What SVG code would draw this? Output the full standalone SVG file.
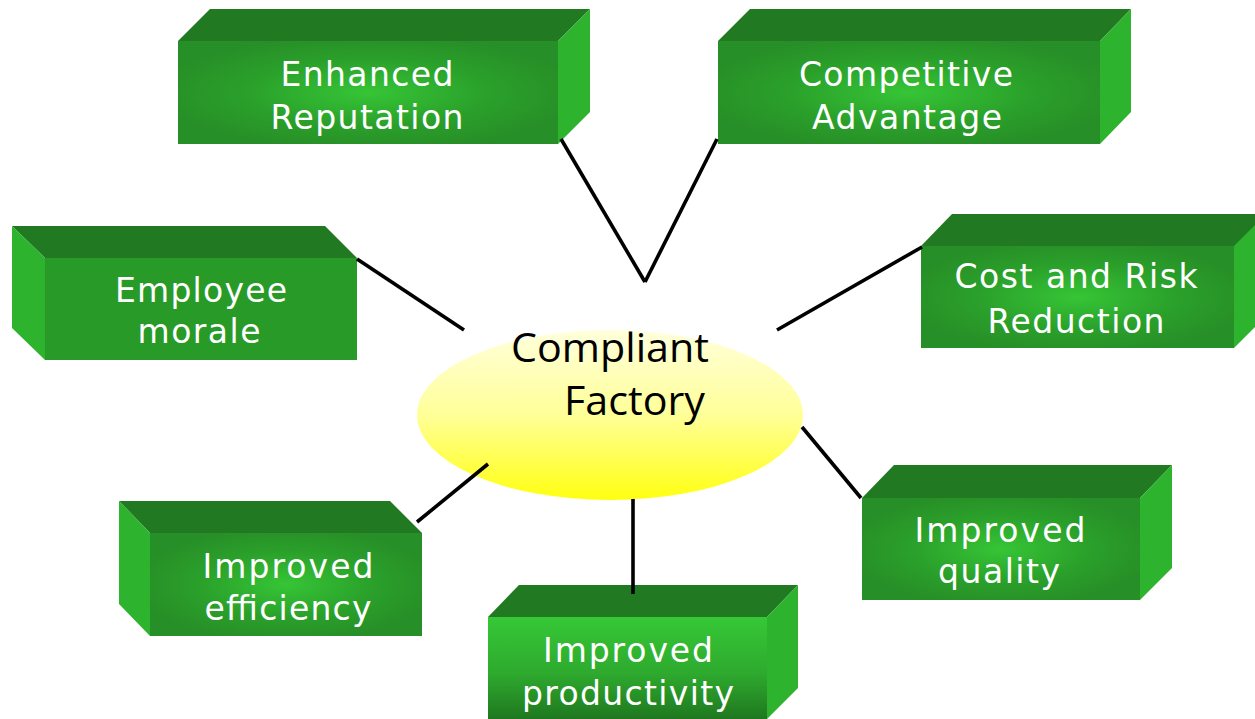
<svg xmlns="http://www.w3.org/2000/svg" width="1255" height="719" viewBox="0 0 1255 719">
<defs>
<radialGradient id="front" cx="0.5" cy="0.5" r="0.55">
<stop offset="0" stop-color="#36c536"/>
<stop offset="0.6" stop-color="#2a9f2a"/>
<stop offset="1" stop-color="#278f27"/>
</radialGradient>
<linearGradient id="frontV" x1="0" y1="0" x2="0" y2="1">
<stop offset="0" stop-color="#36c836"/>
<stop offset="0.55" stop-color="#2eaa2e"/>
<stop offset="1" stop-color="#1f781f"/>
</linearGradient>
<linearGradient id="ell" x1="0" y1="0" x2="0" y2="1">
<stop offset="0" stop-color="#ffffdc"/>
<stop offset="0.5" stop-color="#ffff98"/>
<stop offset="1" stop-color="#ffff10"/>
</linearGradient>
</defs>
<style>
.top{fill:#217a21}
.side{fill:#2db32d}
.fr{fill:url(#front)}
.frp{fill:#289a28}
.frv{fill:url(#frontV)}
.lbl{font-family:"DejaVu Sans",Verdana,sans-serif;font-size:33px;fill:#ffffff;text-anchor:middle}
.ctr{font-family:"Open Sans","Liberation Sans",sans-serif;font-size:41px;fill:#000000}
.conn line{stroke:#000;stroke-width:3.6;stroke-linecap:butt}
</style>
<g id="hub">
<ellipse cx="610" cy="415" rx="193" ry="85" fill="url(#ell)"/>
<text class="ctr" x="511" y="362" textLength="198" lengthAdjust="spacingAndGlyphs">Compliant</text>
<text class="ctr" x="564" y="415" textLength="141" lengthAdjust="spacingAndGlyphs">Factory</text>
</g>
<g id="n-reputation">
<polygon class="top" points="178,41 210,9 590,9 558,41"/>
<polygon class="side" points="558,41 590,9 590,112 558,144"/>
<rect class="fr" x="178" y="41" width="380" height="103"/>
<text class="lbl" x="367" y="86" textLength="173" lengthAdjust="spacing">Enhanced</text>
<text class="lbl" x="367" y="129" textLength="193" lengthAdjust="spacing">Reputation</text>
</g>
<g id="n-competitive">
<polygon class="top" points="718,41 750,9 1131,9 1100,41"/>
<polygon class="side" points="1100,41 1131,9 1131,112 1100,144"/>
<rect class="fr" x="718" y="41" width="382" height="103"/>
<text class="lbl" x="906" y="86" textLength="214" lengthAdjust="spacing">Competitive</text>
<text class="lbl" x="907" y="129" textLength="190" lengthAdjust="spacing">Advantage</text>
</g>
<g id="n-morale">
<polygon class="top" points="12,226 325,226 357,258 45,258"/>
<polygon class="side" points="12,226 45,258 45,360 12,328"/>
<rect class="frp" x="45" y="258" width="312" height="102"/>
<text class="lbl" x="201" y="302" textLength="172" lengthAdjust="spacing">Employee</text>
<text class="lbl" x="199" y="343" textLength="123" lengthAdjust="spacing">morale</text>
</g>
<g id="n-cost">
<polygon class="top" points="921,246 952,214 1255,214 1255,246"/>
<polygon class="side" points="1234,246 1255,225 1255,327 1234,348"/>
<rect class="fr" x="921" y="246" width="313" height="102"/>
<text class="lbl" x="1076" y="288" textLength="243" lengthAdjust="spacing">Cost and Risk</text>
<text class="lbl" x="1076" y="333" textLength="177" lengthAdjust="spacing">Reduction</text>
</g>
<g id="n-efficiency">
<polygon class="top" points="119,501 390,501 422,533 150,533"/>
<polygon class="side" points="119,501 150,533 150,636 119,604"/>
<rect class="fr" x="150" y="533" width="272" height="103"/>
<text class="lbl" x="288" y="578" textLength="171" lengthAdjust="spacing">Improved</text>
<text class="lbl" x="288" y="620" textLength="167" lengthAdjust="spacing">efficiency</text>
</g>
<g id="n-productivity">
<polygon class="top" points="488,617 519,585 798,585 767,617"/>
<polygon class="side" points="767,617 798,585 798,688 767,719"/>
<rect class="frv" x="488" y="617" width="279" height="102"/>
<text class="lbl" x="628" y="662" textLength="170" lengthAdjust="spacing">Improved</text>
<text class="lbl" x="628" y="705" textLength="212" lengthAdjust="spacing">productivity</text>
</g>
<g id="n-quality">
<polygon class="top" points="862,498 894,465 1172,465 1140,498"/>
<polygon class="side" points="1140,498 1172,465 1172,568 1140,600"/>
<rect class="fr" x="862" y="498" width="278" height="102"/>
<text class="lbl" x="1000" y="542" textLength="171" lengthAdjust="spacing">Improved</text>
<text class="lbl" x="999" y="583" textLength="122" lengthAdjust="spacing">quality</text>
</g>
<g id="connectors" class="conn">
<line x1="561" y1="139" x2="645" y2="282"/>
<line x1="717" y1="139" x2="645" y2="282"/>
<line x1="357" y1="259" x2="464" y2="330"/>
<line x1="922" y1="247" x2="777" y2="330"/>
<line x1="417" y1="522" x2="488" y2="464"/>
<line x1="633" y1="499" x2="633" y2="594"/>
<line x1="802" y1="427" x2="861" y2="498"/>
</g>
</svg>
